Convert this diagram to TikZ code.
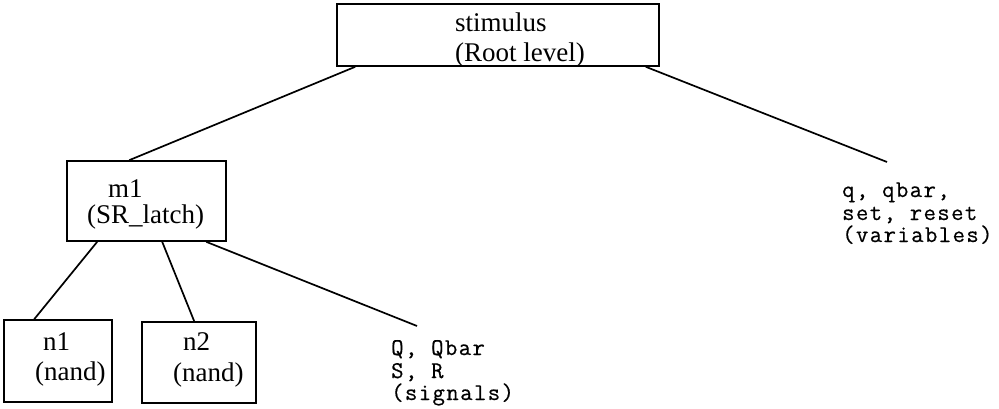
\documentclass[tikz,border=0pt]{standalone}
\usepackage{fontspec}
\setmainfont{Liberation Serif}
\newfontfamily\courfont[LetterSpace=6,FakeBold=0.5]{Latin Modern Mono}
\begin{document}
\begin{tikzpicture}[x=1pt,y=-1pt,
  boxnode/.style={draw,line width=1.6pt,inner sep=0pt,rectangle},
  lbl/.style={anchor=base west,inner sep=0pt,font=\fontsize{27}{27}\selectfont},
  mono/.style={anchor=base west,inner sep=0pt,font=\fontsize{24}{20}\courfont},
  conn/.style={line width=1.7pt}]
\useasboundingbox (0,0) rectangle (999,408);
% boxes
\node[boxnode,minimum width=322pt,minimum height=62pt] (root) at (498,35) {};
\node[boxnode,minimum width=159pt,minimum height=80pt] (m1) at (146.5,201) {};
\node[boxnode,minimum width=108pt,minimum height=82pt] (n1) at (58,361) {};
\node[boxnode,minimum width=114pt,minimum height=81pt] (n2) at (199,362.5) {};
% box texts
\node[lbl] (rt1) at (455,31) {stimulus};
\node[lbl] (rt2) at (455,61) {(Root level)};
\node[lbl] (mt1) at (108,197) {m1};
\node[lbl] (mt2) at (87,223) {(SR\_latch)};
\node[lbl] (a1) at (43,350) {n1};
\node[lbl] (a2) at (35,380) {(nand)};
\node[lbl] (b1) at (183,350) {n2};
\node[lbl] (b2) at (173,381) {(nand)};
% mono texts
\node[mono] (v1) at (842,197) {q, qbar,};
\node[mono] (v2) at (842,220) {set, reset};
\node[mono] (v3) at (842,242) {(variables)};
\node[mono] (s1) at (391,355) {Q, Qbar};
\node[mono] (s2) at (391,378) {S, R};
\node[mono] (s3) at (391,400) {(signals)};
% free ends
\coordinate (vend) at (887,162);
\coordinate (send) at (417,326);
% connectors
\draw[conn] ([xshift=19pt]root.south west) -- ([xshift=63pt]m1.north west);
\draw[conn] ([xshift=-14pt]root.south east) -- (vend);
\draw[conn] ([xshift=31pt]m1.south west) -- ([xshift=31pt]n1.north west);
\draw[conn] ([xshift=96pt]m1.south west) -- ([xshift=53pt]n2.north west);
\draw[conn] ([xshift=140pt]m1.south west) -- (send);
\end{tikzpicture}
\end{document}
